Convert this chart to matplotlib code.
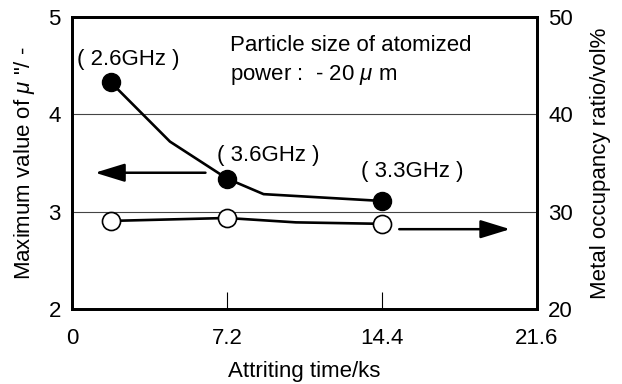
import matplotlib
matplotlib.use("Agg")
import matplotlib.pyplot as plt

plt.rcParams['font.family'] = ['Liberation Sans', 'DejaVu Sans']
plt.rcParams['mathtext.fontset'] = 'custom'
plt.rcParams['mathtext.it'] = 'Liberation Sans:italic'
plt.rcParams['mathtext.rm'] = 'Liberation Sans'

# Data
time_mu = [1.8, 4.55, 7.2, 8.9, 14.4]
mu_max = [4.33, 3.72, 3.34, 3.18, 3.11]
time_mu_pts = [1.8, 7.2, 14.4]
mu_pts = [4.33, 3.34, 3.11]
freq_labels = ["( 2.6GHz )", "( 3.6GHz )", "( 3.3GHz )"]

time_occ = [1.8, 7.2, 10.4, 14.4]
occ = [29.05, 29.35, 28.9, 28.75]
time_occ_pts = [1.8, 7.2, 14.4]
occ_pts = [29.05, 29.35, 28.75]

xticks = [0, 7.2, 14.4, 21.6]
xticklabels = ["0", "7.2", "14.4", "21.6"]

fig = plt.figure(figsize=(6.22, 3.84), dpi=100)
ax = fig.add_axes([72/622, 1-309/384, (537-72)/622, (309-17)/384])
ax2 = ax.twinx()

ax.set_xlim(0, 21.6)
ax.set_ylim(2, 5)
ax2.set_ylim(20, 50)

for y in [3, 4]:
    ax.axhline(y, color='#444444', lw=0.8, zorder=1)

ax.plot(time_mu, mu_max, color='black', lw=1.9, zorder=3)
ax.plot(time_mu_pts, mu_pts, 'o', color='black', ms=13, zorder=4)
ax2.plot(time_occ, occ, color='black', lw=1.9, zorder=3)
ax2.plot(time_occ_pts, occ_pts, 'o', mfc='white', mec='black', mew=1.2, ms=13, zorder=4)

fs = 16
label_pos = [(2.6, 4.56), (9.1, 3.58), (15.8, 3.41)]
for (x, y), lab in zip(label_pos, freq_labels):
    ax.text(x, y, lab, fontsize=fs, ha='center', va='center', zorder=5)

ax.text(7.34, 4.71, "Particle size of atomized", fontsize=fs, ha='left', va='center')
ax.text(7.34, 4.40, "power :  - 20 $\\mathit{\\mu}$ m", fontsize=fs, ha='left', va='center')

# arrows
aprops = dict(arrowstyle='-|>,head_length=1.3,head_width=0.4', color='black',
              lw=1.8, shrinkA=0, shrinkB=0, mutation_scale=14)
ax.annotate("", xy=(1.07, 3.40), xytext=(6.2, 3.40), arrowprops=aprops)
ax2.annotate("", xy=(20.35, 28.2), xytext=(15.2, 28.2), arrowprops=aprops)

ax.set_xticks(xticks)
ax.set_xticklabels(xticklabels, fontsize=fs)
ax.set_yticks([2, 3, 4, 5])
ax.set_yticklabels(["2", "3", "4", "5"], fontsize=fs)
ax2.set_yticks([20, 30, 40, 50])
ax2.set_yticklabels(["20", "30", "40", "50"], fontsize=fs)

ax.tick_params(axis='x', direction='in', length=12, width=0.8, pad=14)
ax.tick_params(axis='y', length=0, pad=8)
ax2.tick_params(axis='y', length=0, pad=8)

for a in (ax, ax2):
    for s in a.spines.values():
        s.set_linewidth(2)

ax.set_xlabel("Attriting time/ks", fontsize=fs, labelpad=8)
ax.set_ylabel("Maximum value of $\\mathit{\\mu}$ \"/ -", fontsize=fs, labelpad=8)
ax2.set_ylabel("Metal occupancy ratio/vol%", fontsize=fs, labelpad=12)

fig.savefig("out.png", dpi=100)
